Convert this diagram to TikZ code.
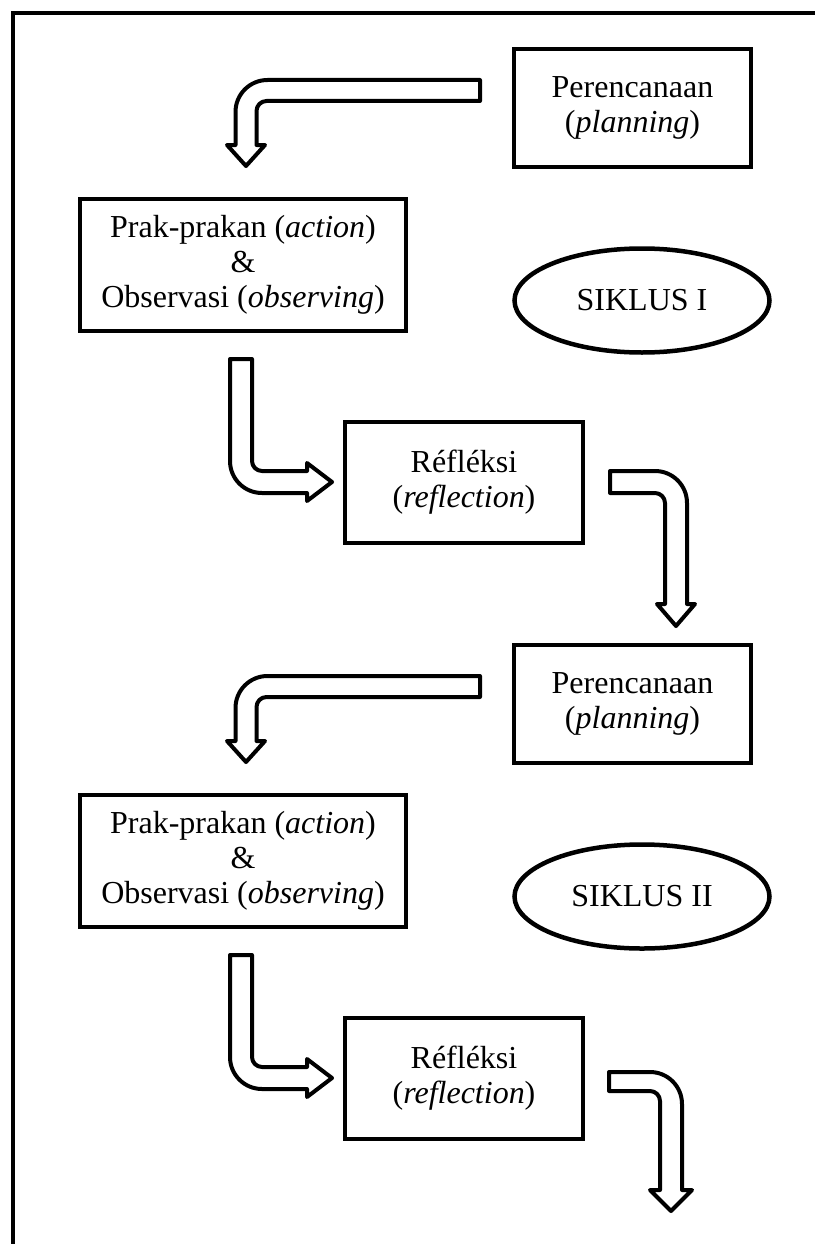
\documentclass[tikz,border=0pt]{standalone}
\usepackage{fontspec}
\setmainfont{Liberation Serif}
\usetikzlibrary{shapes.geometric}
\begin{document}
\begin{tikzpicture}[x=1pt,y=-1pt,
  txt/.style={font=\fontsize{32}{35}\selectfont},
  box/.style={draw, line width=4.5pt, align=center, inner sep=0pt, txt},
  cyc/.style={draw, ellipse, line width=4.5pt, minimum width=255pt, minimum height=104pt, inner sep=0pt, txt},
  barrow/.style={draw, line width=4pt, fill=white, line join=round},
  frameline/.style={line width=4.5pt}]
\useasboundingbox (0,0) rectangle (814,1244);
\draw[frameline] (13,1250) -- (13,13) -- (820,13);

% ---------- cycle I ----------
\node[box, minimum width=237pt, minimum height=118pt] (p1) at (632.5,108) {Perencanaan\\(\textit{planning})};
\node[box, minimum width=326pt, minimum height=132pt] (ao1) at (243,265) {Prak-prakan (\textit{action})\\\&\\Observasi (\textit{observing})};
\node[cyc] (e1) at (642,300.5) {SIKLUS I};
\node[box, minimum width=238pt, minimum height=121pt] (r1) at (464,482.5) {Réfléksi\\(\textit{reflection})};

\coordinate (a1tip) at (246,166);
\draw[barrow] (480,80) -- (267.5,80) .. controls (249.8,80) and (235.5,94.3) .. (235.5,112)
  -- (235.5,145) -- (227,145) -- (a1tip) -- (265,145) -- (256.5,145) -- (256.5,111)
  .. controls (256.5,105.5) and (261,101) .. (266.5,101) -- (480,101) -- cycle;

\coordinate (a2tip) at (332,482);
\draw[barrow] (230,359) -- (252,359) -- (252,461) .. controls (252,466.5) and (256.5,471) .. (262,471)
  -- (307,471) -- (307,463) -- (a2tip) -- (307,501) -- (307,493) -- (262,493)
  .. controls (244.3,493) and (230,478.7) .. (230,461) -- cycle;

\coordinate (a3tip) at (676,626);
\draw[barrow] (610,471) -- (655,471) .. controls (672.7,471) and (687,485.3) .. (687,503)
  -- (687,604) -- (695,604) -- (a3tip) -- (657,604) -- (665,604) -- (665,503)
  .. controls (665,497.5) and (660.5,493) .. (655,493) -- (610,493) -- cycle;

% ---------- cycle II ----------
\node[box, minimum width=237pt, minimum height=118pt] (p2) at (632.5,704) {Perencanaan\\(\textit{planning})};
\node[box, minimum width=326pt, minimum height=132pt] (ao2) at (243,861) {Prak-prakan (\textit{action})\\\&\\Observasi (\textit{observing})};
\node[cyc] (e2) at (642,896.5) {SIKLUS II};
\node[box, minimum width=238pt, minimum height=121pt] (r2) at (464,1078.5) {Réfléksi\\(\textit{reflection})};

\begin{scope}[shift={(0,596)}]
\coordinate (a4tip) at (246,166);
\draw[barrow] (480,80) -- (267.5,80) .. controls (249.8,80) and (235.5,94.3) .. (235.5,112)
  -- (235.5,145) -- (227,145) -- (a4tip) -- (265,145) -- (256.5,145) -- (256.5,111)
  .. controls (256.5,105.5) and (261,101) .. (266.5,101) -- (480,101) -- cycle;

\coordinate (a5tip) at (332,482);
\draw[barrow] (230,359) -- (252,359) -- (252,461) .. controls (252,466.5) and (256.5,471) .. (262,471)
  -- (307,471) -- (307,463) -- (a5tip) -- (307,501) -- (307,493) -- (262,493)
  .. controls (244.3,493) and (230,478.7) .. (230,461) -- cycle;
\end{scope}

\coordinate (a6tip) at (671,1211);
\draw[barrow] (609,1072) -- (650,1072) .. controls (667.7,1072) and (682,1086.3) .. (682,1104)
  -- (682,1190) -- (692,1190) -- (a6tip) -- (650,1190) -- (660,1190) -- (660,1101)
  .. controls (660,1095.5) and (655.5,1091) .. (650,1091) -- (609,1091) -- cycle;
\end{tikzpicture}
\end{document}
